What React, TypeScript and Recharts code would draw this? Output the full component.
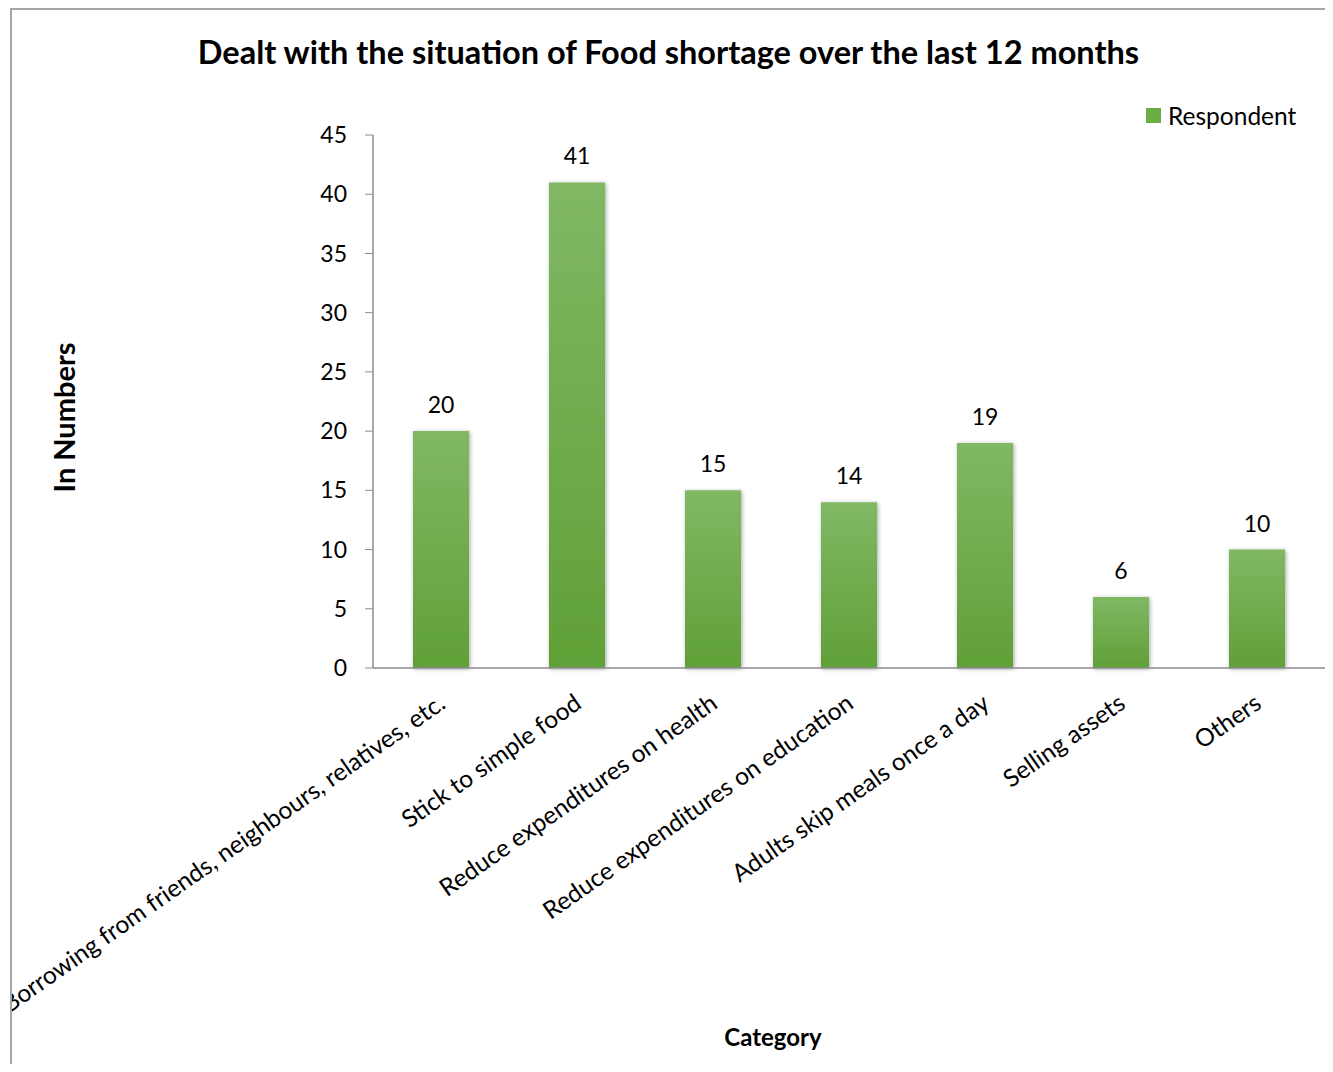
import React from "react";
import { BarChart, Bar, XAxis, YAxis, LabelList, Legend } from "recharts";

const categories = [
  "Borrowing from friends, neighbours, relatives, etc.",
  "Stick to simple food",
  "Reduce expenditures on health",
  "Reduce expenditures on education",
  "Adults skip meals once a day",
  "Selling assets",
  "Others",
];
const respondents = [20, 41, 15, 14, 19, 6, 10];
const yTicks = [0, 5, 10, 15, 20, 25, 30, 35, 40, 45];

const data = categories.map((c, i) => ({ category: c, Respondent: respondents[i] }));

const FONT = "Lato, 'Liberation Sans', sans-serif";
const AXIS = "#8c8c8c";

function CategoryTick(props: any) {
  const { x, y, payload } = props;
  return (
    <g transform={`translate(${x + 6},${y + 31})`}>
      <text textAnchor="end" transform="rotate(-35)" fontSize={24.5} fontFamily={FONT} fill="#000">
        {payload.value}
      </text>
    </g>
  );
}

function LegendBox() {
  return (
    <div style={{ display: "flex", alignItems: "center", fontFamily: FONT, fontSize: 24.5, color: "#000" }}>
      <span style={{ display: "inline-block", width: 15, height: 15, background: "#6aad45", marginRight: 7 }} />
      Respondent
    </div>
  );
}

export default function App() {
  return (
    <div style={{ position: "relative", width: 1333, height: 1072, margin: -8, background: "#fff", overflow: "hidden" }}>
      <div
        style={{
          position: "absolute",
          left: 10,
          top: 8,
          width: 1317,
          height: 1070,
          border: "2px solid #a6a6a6",
          boxSizing: "border-box",
          overflow: "hidden",
        }}
      >
        <div
          style={{
            position: "absolute",
            top: 22,
            left: 0,
            width: 1313,
            textAlign: "center",
            fontFamily: FONT,
            fontWeight: 700,
            fontSize: 32.5,
            color: "#000",
            zIndex: 2,
          }}
        >
          Dealt with the situation of Food shortage over the last 12 months
        </div>
        <BarChart
          width={1313}
          height={1060}
          data={data}
          margin={{ top: 125, right: 0, left: 281, bottom: 102 }}
          barSize={56}
        >
          <defs>
            <linearGradient id="barFill" x1="0" y1="0" x2="0" y2="1">
              <stop offset="0%" stopColor="#80b864" />
              <stop offset="100%" stopColor="#60a037" />
            </linearGradient>
            <filter id="barShadow" x="-30%" y="-10%" width="160%" height="130%">
              <feDropShadow dx="1" dy="1" stdDeviation="2" floodColor="#000" floodOpacity="0.35" />
            </filter>
          </defs>
          <XAxis
            dataKey="category"
            height={300}
            interval={0}
            tickLine={false}
            axisLine={{ stroke: AXIS, strokeWidth: 1.5 }}
            tick={<CategoryTick />}
            label={(p: any) => {
              const vb = p.viewBox;
              return (
                <text
                  x={761}
                  y={vb.y + 378}
                  textAnchor="middle"
                  fontFamily={FONT}
                  fontWeight={700}
                  fontSize={24}
                  fill="#000"
                >
                  Category
                </text>
              );
            }}
          />
          <YAxis
            width={80}
            domain={[0, 45]}
            ticks={yTicks}
            interval={0}
            tickSize={8}
            tickMargin={18}
            axisLine={{ stroke: AXIS, strokeWidth: 1.5 }}
            tickLine={{ stroke: AXIS }}
            tick={{ fill: "#000", fontSize: 23, fontFamily: FONT }}
            label={(p: any) => {
              const vb = p.viewBox;
              const cy = vb.y + vb.height / 2 + 16;
              return (
                <text
                  x={63}
                  y={cy}
                  transform={`rotate(-90, 63, ${cy})`}
                  textAnchor="middle"
                  fontFamily={FONT}
                  fontWeight={700}
                  fontSize={29}
                  fill="#000"
                >
                  In Numbers
                </text>
              );
            }}
          />
          <Legend
            layout="horizontal"
            verticalAlign="middle"
            align="center"
            content={<LegendBox />}
            wrapperStyle={{ position: "absolute", top: 91, left: 1134, width: "auto" }}
          />
          <Bar
            dataKey="Respondent"
            fill="url(#barFill)"
            filter="url(#barShadow)"
            isAnimationActive={false}
          >
            <LabelList
              dataKey="Respondent"
              position="top"
              offset={18}
              fontSize={23}
              fontFamily={FONT}
              fill="#000"
            />
          </Bar>
        </BarChart>
      </div>
    </div>
  );
}
